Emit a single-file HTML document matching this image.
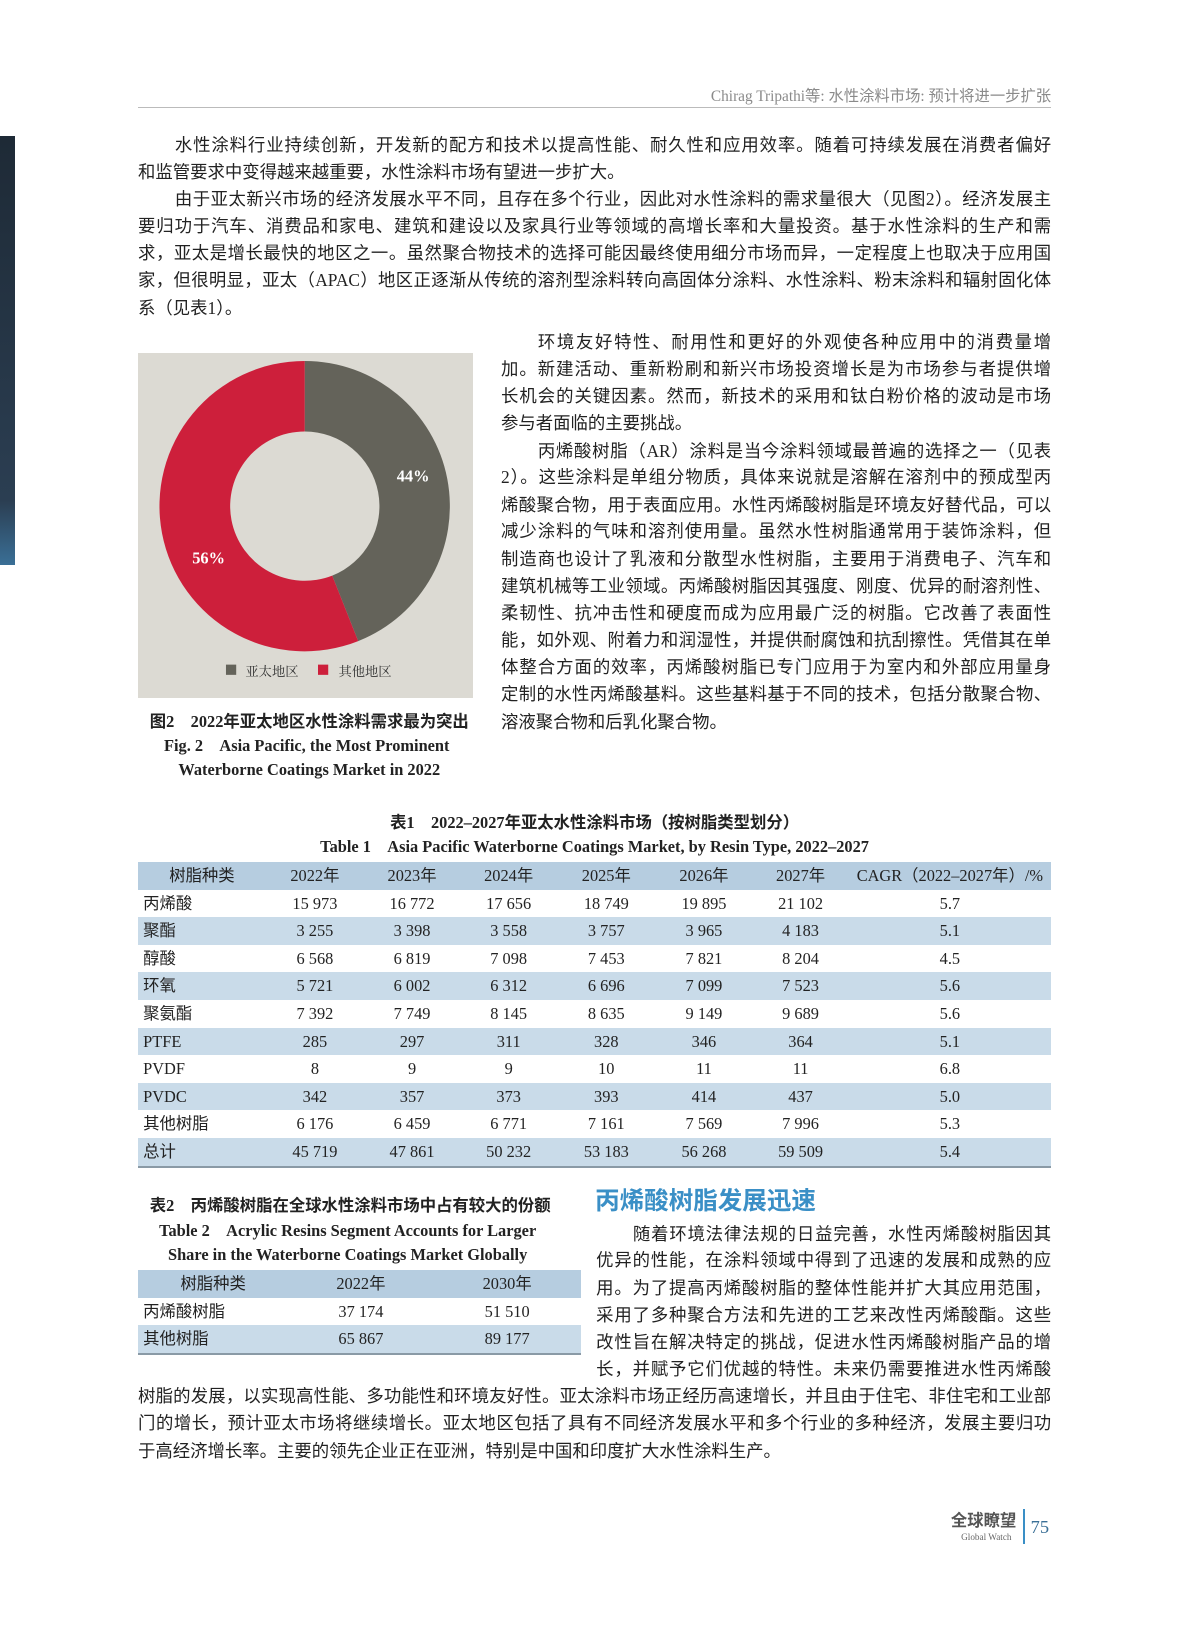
<!DOCTYPE html>
<html><head><meta charset="utf-8">
<style>
*{margin:0;padding:0;box-sizing:border-box}
body{width:1187px;height:1600px;background:#fff;position:relative;overflow:hidden;font-family:"Liberation Serif","Noto Sans CJK SC",sans-serif;color:#222}
#w{position:absolute;left:0;top:0;width:1187px;height:1600px;zoom:1.0225}
.l{position:absolute;font-size:17px;line-height:26px;height:26px;white-space:nowrap}
.j{text-align:justify;text-align-last:justify;white-space:normal;overflow:hidden}
.c{position:absolute;text-align:center;white-space:nowrap;font-weight:bold;font-size:16px;line-height:24px}
table{position:absolute;border-collapse:collapse;font-size:16px;table-layout:fixed}
td{height:27px;padding:0;text-align:center;line-height:27px;white-space:nowrap}
td:first-child{text-align:left;padding-left:5px}
tr.h td{background:#b6cde0;height:27px}
tr.h td:first-child{text-align:center;padding-left:0}
tr.s td{background:#c9dbe9}
tr.last td{border-bottom:2px solid #8a9aa6}
</style></head><body><div id="w">
<div style="position:absolute;left:0;top:133px;width:15px;height:420px;background:linear-gradient(#1e2a36,#2b3e52 85%,#3a6f96)"></div>
<div style="position:absolute;right:159px;top:82px;font-size:15px;color:#8a8a8a;white-space:nowrap">Chirag Tripathi等: 水性涂料市场: 预计将进一步扩张</div>
<div style="position:absolute;left:135px;top:105px;width:893px;height:1px;background:#bbb"></div>

<div class="l j" style="left:135px;top:130px;width:893px;padding-left:36px">水性涂料行业持续创新，开发新的配方和技术以提高性能、耐久性和应用效率。随着可持续发展在消费者偏好</div>
<div class="l" style="left:135px;top:156px">和监管要求中变得越来越重要，水性涂料市场有望进一步扩大。</div>
<div class="l j" style="left:135px;top:183px;width:893px;padding-left:36px">由于亚太新兴市场的经济发展水平不同，且存在多个行业，因此对水性涂料的需求量很大（见图2）。经济发展主</div>
<div class="l j" style="left:135px;top:209px;width:893px">要归功于汽车、消费品和家电、建筑和建设以及家具行业等领域的高增长率和大量投资。基于水性涂料的生产和需</div>
<div class="l j" style="left:135px;top:236px;width:893px">求，亚太是增长最快的地区之一。虽然聚合物技术的选择可能因最终使用细分市场而异，一定程度上也取决于应用国</div>
<div class="l j" style="left:135px;top:262px;width:893px">家，但很明显，亚太（APAC）地区正逐渐从传统的溶剂型涂料转向高固体分涂料、水性涂料、粉末涂料和辐射固化体</div>
<div class="l" style="left:135px;top:289px">系（见表1）。</div>

<div style="position:absolute;left:135px;top:345px;width:328px;height:338px;background:#dcdad3"></div>
<svg style="position:absolute;left:0;top:0" width="1187" height="800">
<path d="M298,353 A142,142 0 0 1 350.3,627 L324.9,562.9 A73,73 0 0 0 298,422 Z" fill="#64635a"/>
<path d="M350.3,627 A142,142 0 1 1 298,353 L298,422 A73,73 0 1 0 324.9,562.9 Z" fill="#cd1f3b"/>
<text x="388" y="471" fill="#fff" font-size="16" font-weight="bold" font-family="Liberation Serif">44%</text>
<text x="188" y="551" fill="#fff" font-size="16" font-weight="bold" font-family="Liberation Serif">56%</text>
<rect x="221" y="650" width="10" height="10" fill="#64635a"/>
<text x="240" y="661" fill="#333" font-size="13" font-family="Noto Serif CJK SC">亚太地区</text>
<rect x="311" y="650" width="10" height="10" fill="#cd1f3b"/>
<text x="331" y="661" fill="#333" font-size="13" font-family="Noto Serif CJK SC">其他地区</text>
</svg>
<div class="c" style="left:135px;width:335px;top:694px">图2　2022年亚太地区水性涂料需求最为突出</div>
<div class="c" style="left:135px;width:330px;top:718px">Fig. 2　Asia Pacific, the Most Prominent</div>
<div class="c" style="left:135px;width:335px;top:741px">Waterborne Coatings Market in 2022</div>

<div class="l j" style="left:490px;top:323px;width:538px;padding-left:36px">环境友好特性、耐用性和更好的外观使各种应用中的消费量增</div>
<div class="l j" style="left:490px;top:349px;width:538px">加。新建活动、重新粉刷和新兴市场投资增长是为市场参与者提供增</div>
<div class="l j" style="left:490px;top:376px;width:538px">长机会的关键因素。然而，新技术的采用和钛白粉价格的波动是市场</div>
<div class="l" style="left:490px;top:402px">参与者面临的主要挑战。</div>
<div class="l j" style="left:490px;top:429px;width:538px;padding-left:36px">丙烯酸树脂（AR）涂料是当今涂料领域最普遍的选择之一（见表</div>
<div class="l j" style="left:490px;top:455px;width:538px">2）。这些涂料是单组分物质，具体来说就是溶解在溶剂中的预成型丙</div>
<div class="l j" style="left:490px;top:482px;width:538px">烯酸聚合物，用于表面应用。水性丙烯酸树脂是环境友好替代品，可以</div>
<div class="l j" style="left:490px;top:508px;width:538px">减少涂料的气味和溶剂使用量。虽然水性树脂通常用于装饰涂料，但</div>
<div class="l j" style="left:490px;top:535px;width:538px">制造商也设计了乳液和分散型水性树脂，主要用于消费电子、汽车和</div>
<div class="l j" style="left:490px;top:561px;width:538px">建筑机械等工业领域。丙烯酸树脂因其强度、刚度、优异的耐溶剂性、</div>
<div class="l j" style="left:490px;top:588px;width:538px">柔韧性、抗冲击性和硬度而成为应用最广泛的树脂。它改善了表面性</div>
<div class="l j" style="left:490px;top:614px;width:538px">能，如外观、附着力和润湿性，并提供耐腐蚀和抗刮擦性。凭借其在单</div>
<div class="l j" style="left:490px;top:641px;width:538px">体整合方面的效率，丙烯酸树脂已专门应用于为室内和外部应用量身</div>
<div class="l j" style="left:490px;top:667px;width:538px">定制的水性丙烯酸基料。这些基料基于不同的技术，包括分散聚合物、</div>
<div class="l" style="left:490px;top:694px">溶液聚合物和后乳化聚合物。</div>

<div class="c" style="left:135px;width:893px;top:793px">表1　2022–2027年亚太水性涂料市场（按树脂类型划分）</div>
<div class="c" style="left:135px;width:893px;top:817px">Table 1　Asia Pacific Waterborne Coatings Market, by Resin Type, 2022–2027</div>
<table style="left:135px;top:843px;width:893px">
<colgroup><col style="width:125px"><col style="width:96px"><col style="width:94px"><col style="width:95px"><col style="width:96px"><col style="width:95px"><col style="width:94px"><col style="width:198px"></colgroup>
<tr class="h"><td>树脂种类</td><td>2022年</td><td>2023年</td><td>2024年</td><td>2025年</td><td>2026年</td><td>2027年</td><td>CAGR（2022–2027年）/%</td></tr>
<tr><td>丙烯酸</td><td>15 973</td><td>16 772</td><td>17 656</td><td>18 749</td><td>19 895</td><td>21 102</td><td>5.7</td></tr>
<tr class="s"><td>聚酯</td><td>3 255</td><td>3 398</td><td>3 558</td><td>3 757</td><td>3 965</td><td>4 183</td><td>5.1</td></tr>
<tr><td>醇酸</td><td>6 568</td><td>6 819</td><td>7 098</td><td>7 453</td><td>7 821</td><td>8 204</td><td>4.5</td></tr>
<tr class="s"><td>环氧</td><td>5 721</td><td>6 002</td><td>6 312</td><td>6 696</td><td>7 099</td><td>7 523</td><td>5.6</td></tr>
<tr><td>聚氨酯</td><td>7 392</td><td>7 749</td><td>8 145</td><td>8 635</td><td>9 149</td><td>9 689</td><td>5.6</td></tr>
<tr class="s"><td>PTFE</td><td>285</td><td>297</td><td>311</td><td>328</td><td>346</td><td>364</td><td>5.1</td></tr>
<tr><td>PVDF</td><td>8</td><td>9</td><td>9</td><td>10</td><td>11</td><td>11</td><td>6.8</td></tr>
<tr class="s"><td>PVDC</td><td>342</td><td>357</td><td>373</td><td>393</td><td>414</td><td>437</td><td>5.0</td></tr>
<tr><td>其他树脂</td><td>6 176</td><td>6 459</td><td>6 771</td><td>7 161</td><td>7 569</td><td>7 996</td><td>5.3</td></tr>
<tr class="s last"><td>总计</td><td>45 719</td><td>47 861</td><td>50 232</td><td>53 183</td><td>56 268</td><td>59 509</td><td>5.4</td></tr>
</table>

<div class="c" style="left:135px;width:415px;top:1168px">表2　丙烯酸树脂在全球水性涂料市场中占有较大的份额</div>
<div class="c" style="left:135px;width:410px;top:1192px">Table 2　Acrylic Resins Segment Accounts for Larger</div>
<div class="c" style="left:135px;width:410px;top:1216px">Share in the Waterborne Coatings Market Globally</div>
<table style="left:135px;top:1242px;width:433px">
<colgroup><col style="width:147px"><col style="width:142px"><col style="width:144px"></colgroup>
<tr class="h"><td>树脂种类</td><td>2022年</td><td>2030年</td></tr>
<tr><td>丙烯酸树脂</td><td>37 174</td><td>51 510</td></tr>
<tr class="s last"><td>其他树脂</td><td>65 867</td><td>89 177</td></tr>
</table>

<div style="position:absolute;left:582px;top:1158px;font-size:24px;font-weight:bold;color:#3a8fc6;font-family:'Noto Sans CJK SC',sans-serif;line-height:32px">丙烯酸树脂发展迅速</div>
<div class="l j" style="left:583px;top:1195px;width:445px;padding-left:36px">随着环境法律法规的日益完善，水性丙烯酸树脂因其</div>
<div class="l j" style="left:583px;top:1221px;width:445px">优异的性能，在涂料领域中得到了迅速的发展和成熟的应</div>
<div class="l j" style="left:583px;top:1248px;width:445px">用。为了提高丙烯酸树脂的整体性能并扩大其应用范围，</div>
<div class="l j" style="left:583px;top:1274px;width:445px">采用了多种聚合方法和先进的工艺来改性丙烯酸酯。这些</div>
<div class="l j" style="left:583px;top:1301px;width:445px">改性旨在解决特定的挑战，促进水性丙烯酸树脂产品的增</div>
<div class="l j" style="left:583px;top:1327px;width:445px">长，并赋予它们优越的特性。未来仍需要推进水性丙烯酸</div>
<div class="l j" style="left:135px;top:1354px;width:893px">树脂的发展，以实现高性能、多功能性和环境友好性。亚太涂料市场正经历高速增长，并且由于住宅、非住宅和工业部</div>
<div class="l j" style="left:135px;top:1380px;width:893px">门的增长，预计亚太市场将继续增长。亚太地区包括了具有不同经济发展水平和多个行业的多种经济，发展主要归功</div>
<div class="l" style="left:135px;top:1407px">于高经济增长率。主要的领先企业正在亚洲，特别是中国和印度扩大水性涂料生产。</div>

<div style="position:absolute;left:930px;top:1475px;font-size:16px;font-weight:bold;color:#555;font-family:'Noto Sans CJK SC',sans-serif;line-height:22px">全球瞭望</div>
<div style="position:absolute;left:940px;top:1497px;font-size:9px;color:#666;line-height:12px">Global Watch</div>
<div style="position:absolute;left:1000px;top:1476px;width:2px;height:34px;background:#3a8fc6"></div>
<div style="position:absolute;left:1008px;top:1482px;font-size:18px;color:#3a6f96;line-height:24px">75</div>
</div></body></html>
